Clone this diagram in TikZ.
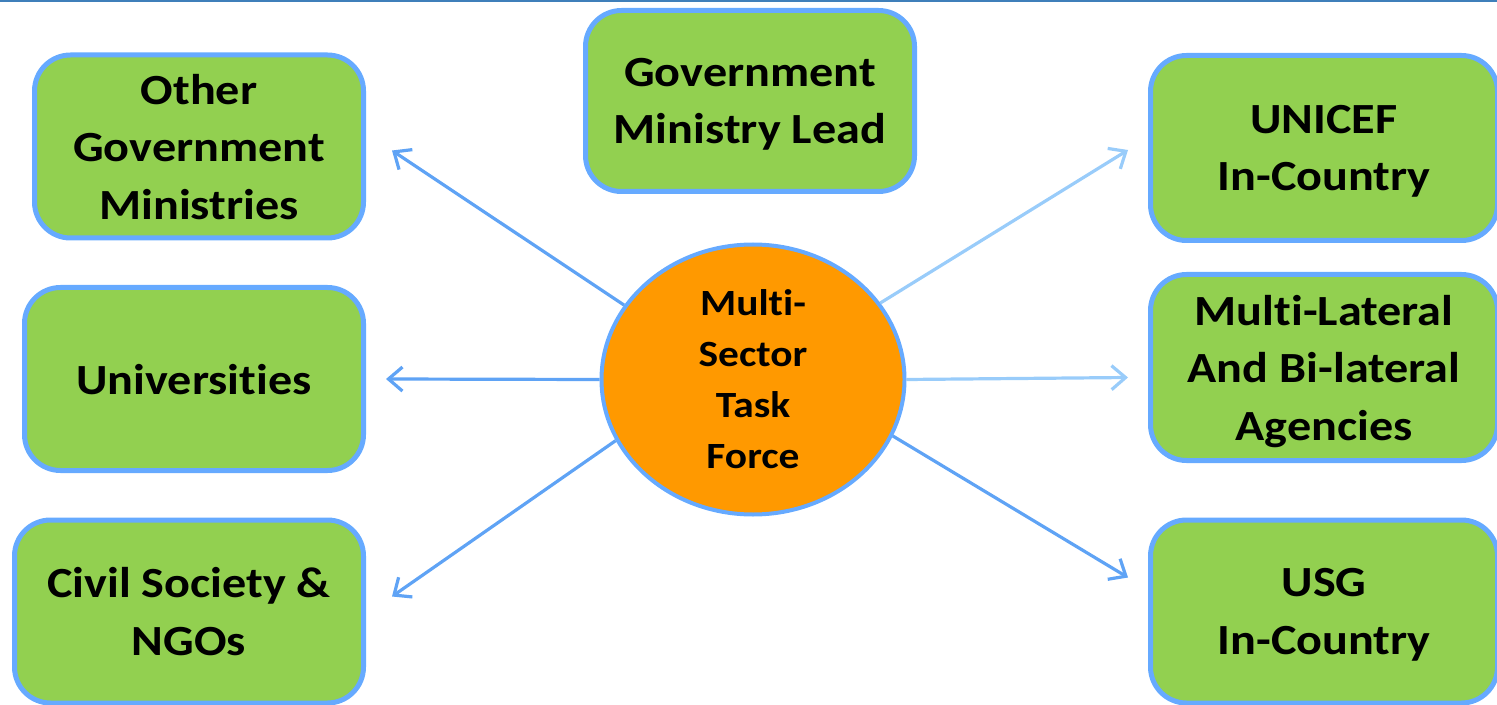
\documentclass[tikz,border=0pt]{standalone}
\usepackage{fontspec}
\setmainfont{Carlito}[FakeStretch=1.12, Ligatures={NoCommon,NoContextual}]
\usepackage{tikz}
\usetikzlibrary{shapes.geometric}
\usetikzlibrary{arrows.meta}
\usetikzlibrary{positioning}
\usepackage{xcolor}
\definecolor{boxgreen}{HTML}{92D050}
\definecolor{rimblue}{HTML}{66AAFF}
\definecolor{taskorange}{HTML}{FF9900}
\definecolor{linkblue}{HTML}{5FA3F5}
\definecolor{lightlink}{HTML}{99CCFA}
\definecolor{topblue}{HTML}{3F7FBA}

\begin{document}
\begin{tikzpicture}[x=0.5pt,y=-0.5pt,
	box/.style={draw=rimblue, line width=2.5pt, fill=boxgreen, rounded corners=18pt,
		align=center, inner sep=0pt, minimum height=91.5pt, text depth=0pt,
		font=\bfseries\fontsize{21.5pt}{28.75pt}\selectfont},
	task/.style={ellipse, draw=rimblue, line width=2pt, fill=taskorange, inner sep=0pt,
		minimum width=151.5pt, minimum height=135pt, align=center,
		font=\bfseries\fontsize{18.5pt}{25.5pt}\selectfont},
	link/.style={draw=linkblue, line width=1.6pt, -{Straight Barb[length=7pt,width=12pt]}},
	lightlink/.style={link, draw=lightlink}]
		\useasboundingbox (0,0) rectangle (1497,705);
		\draw[topblue, line width=1pt] (0,1) -- (1497,1);
		% boxes round the task force
		\node[box, minimum width=164.5pt] (othergov) at (199,146.5) {Other\\Government\\Ministries};
		\node[box, minimum width=164.5pt, minimum height=90.5pt] (lead) at (750,101) {Government\\Ministry Lead};
		\node[box, minimum width=169.5pt] (univ) at (194,379) {Universities};
		\node[box, minimum width=174.5pt] (civil) at (189,611.5) {Civil Society \&\\NGOs};
		\node[box, minimum width=173.5pt, minimum height=92.5pt] (unicef) at (1324,148) {UNICEF\\In-Country};
		\node[box, minimum width=173.5pt, minimum height=93pt] (multilat) at (1324,367.5) {Multi-Lateral\\And Bi-lateral\\Agencies};
		\node[box, minimum width=173.5pt] (usg) at (1324,611.5) {USG\\In-Country};
		\node[task] (taskforce) at (753,379.5) {Multi-\\Sector\\Task\\Force};
		% arrow ends
		\coordinate (othergovtip) at ([xshift=13pt,yshift=-2pt]othergov.east);
		\coordinate (univtip) at ([xshift=10pt]univ.east);
		\coordinate (civiltip) at ([xshift=13pt,yshift=7.5pt]civil.east);
		\coordinate (uniceftip) at ([xshift=-10pt,yshift=-1pt]unicef.west);
		\coordinate (multilattip) at ([xshift=-10pt,yshift=-5pt]multilat.west);
		\coordinate (usgtip) at ([xshift=-10pt,yshift=17pt]usg.west);
		\draw[link] (taskforce.150) to (othergovtip);
		\draw[link] (taskforce.180) to (univtip);
		\draw[link] (taskforce.204) to (civiltip);
		\draw[lightlink] (taskforce.31) to (uniceftip);
		\draw[lightlink] (taskforce.0) to (multilattip);
		\draw[link] (taskforce.-22) to (usgtip);
\end{tikzpicture}
\end{document}
